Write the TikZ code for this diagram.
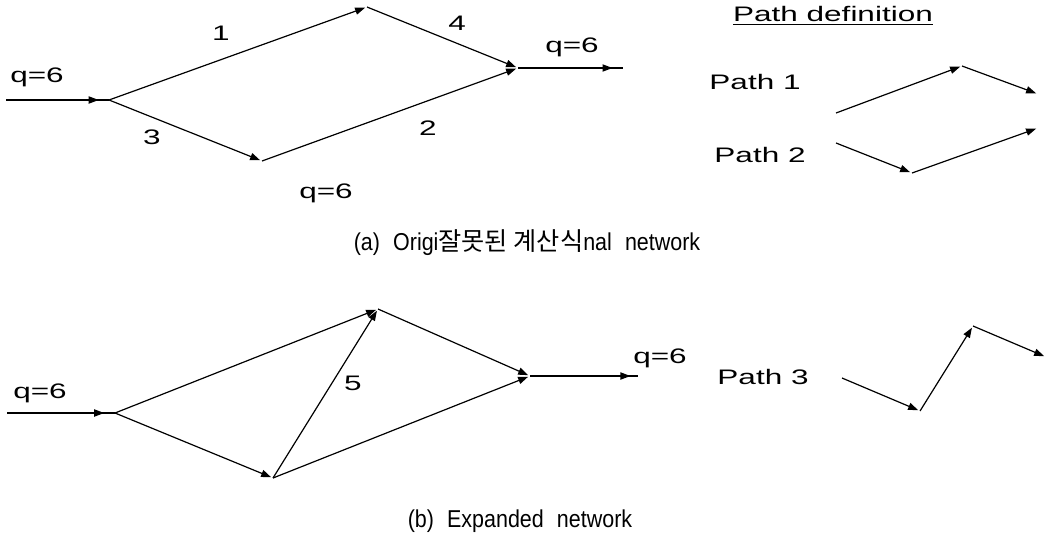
\documentclass[tikz,border=0pt]{standalone}
\usepackage{fontspec}
\setmainfont{Liberation Sans}
\newfontfamily\plotfont[FakeStretch=1.5]{Liberation Sans}
\newfontfamily\capfont[FakeStretch=0.88,WordSpace=2.2]{Liberation Sans}
\newfontfamily\krfont{Noto Sans CJK KR}
\usetikzlibrary{arrows.meta,decorations.markings}
\tikzset{
  edge/.style={line width=0.6pt,-{Triangle[length=5pt,width=3.6pt]},shorten >=1pt},
  feed/.style={line width=0.6pt,postaction={decorate},
    decoration={markings,mark=at position #1 with {\arrow{Triangle[length=5pt,width=3.6pt]}}}},
  flow/.style={font=\plotfont\fontsize{10.5}{12}\selectfont,inner sep=0pt},
  caption/.style={font=\capfont\fontsize{12.2}{14}\selectfont,inner sep=0pt},
}

\begin{document}
\begin{tikzpicture}[x=0.5pt,y=-0.5pt]
    \useasboundingbox (0,0) rectangle (1047,541);
    % (a) original network
    \coordinate (inA) at (6,100);
    \coordinate (oA) at (109,100);
    \coordinate (uA) at (367,7);
    \coordinate (dA) at (262,161);
    \coordinate (tA) at (518,68);
    \coordinate (outA) at (623,68);
    \draw[feed=0.9] (inA) -- (oA);
    \draw[edge] (oA) -- (uA);
    \draw[edge] (uA) -- (tA);
    \draw[edge] (oA) -- (dA);
    \draw[edge] (dA) -- (tA);
    \draw[feed=0.9] (tA) -- (outA);
    \node[flow] (qa1) at (37,77) {q=6};
    \node[flow] (qa2) at (572,47) {q=6};
    \node[flow] (qa3) at (326,193) {q=6};
    \node[flow] (l1) at (221,33) {1};
    \node[flow] (l4) at (457,23) {4};
    \node[flow] (l2) at (428,128) {2};
    \node[flow] (l3) at (152,137) {3};
    % path definition
    \node[flow] (pdef) at (833,16) {\underline{Path definition}};
    \node[flow] (p1) at (755,82) {Path 1};
    \node[flow] (p2) at (760,155) {Path 2};
    \coordinate (p1a) at (836,113);
    \coordinate (p1b) at (962,66);
    \coordinate (p1c) at (1038,94);
    \coordinate (p2a) at (836,143);
    \coordinate (p2b) at (912,173);
    \coordinate (p2c) at (1038,128);
    \draw[edge] (p1a) -- (p1b);
    \draw[edge] (p1b) -- (p1c);
    \draw[edge] (p2a) -- (p2b);
    \draw[edge] (p2b) -- (p2c);
    \node[caption] (capa) at (527,243) {(a) Origi{\krfont\fontsize{12.6}{14}\selectfont 잘못된 계산식}nal network};
    % (b) expanded network
    \coordinate (inB) at (7,413);
    \coordinate (oB) at (115,413);
    \coordinate (uB) at (378,309);
    \coordinate (dB) at (273,478);
    \coordinate (tB) at (530,376);
    \coordinate (outB) at (638,376);
    \draw[feed=0.9] (inB) -- (oB);
    \draw[edge] (oB) -- (uB);
    \draw[edge] (uB) -- (tB);
    \draw[edge] (oB) -- (dB);
    \draw[edge] (dB) -- (tB);
    \draw[edge] (dB) -- (uB);
    \draw[feed=0.93] (tB) -- (outB);
    \node[flow] (qb1) at (40,393) {q=6};
    \node[flow] (qb2) at (660,358) {q=6};
    \node[flow] (l5) at (353,383) {5};
    \node[flow] (p3) at (763,377) {Path 3};
    \coordinate (p3a) at (842,378);
    \coordinate (p3b) at (920,411);
    \coordinate (p3c) at (973,326);
    \coordinate (p3d) at (1046,357);
    \draw[edge] (p3a) -- (p3b);
    \draw[edge] (p3b) -- (p3c);
    \draw[edge] (p3c) -- (p3d);
    \node[caption] (capb) at (520,521) {(b) Expanded network};
\end{tikzpicture}
\end{document}
